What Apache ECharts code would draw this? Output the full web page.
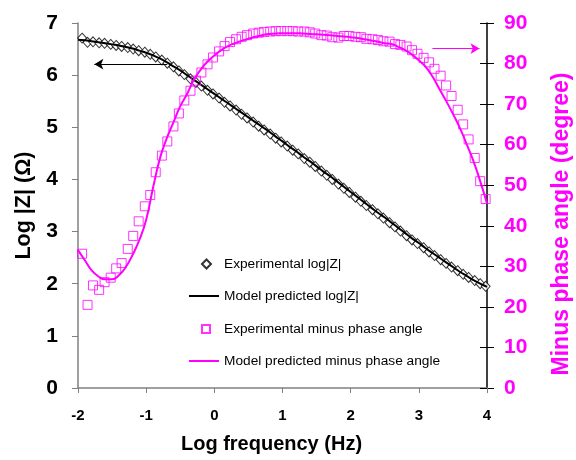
<!DOCTYPE html>
<html><head><meta charset="utf-8">
<script src="https://cdn.jsdelivr.net/npm/echarts@6/dist/echarts.min.js"></script>
<style>html,body{margin:0;padding:0;background:#fff}#c{width:576px;height:460px}</style>
</head><body><div id="c"></div>
<script>
// Model curves (log frequency grid)
const modelX = [-2.0,-1.9,-1.8,-1.7,-1.6,-1.5,-1.4,-1.3,-1.2,-1.1,-1.0,-0.9,-0.8,-0.7,-0.6,-0.5,-0.4,-0.3,-0.2,-0.1,0.0,0.1,0.2,0.3,0.4,0.5,0.6,0.7,0.8,0.9,1.0,1.1,1.2,1.3,1.4,1.5,1.6,1.7,1.8,1.9,2.0,2.1,2.2,2.3,2.4,2.5,2.6,2.7,2.8,2.9,3.0,3.1,3.2,3.3,3.4,3.5,3.6,3.7,3.8,3.9,4.0];
const modelLogZ = [6.68,6.67,6.65,6.63,6.61,6.59,6.57,6.54,6.51,6.47,6.43,6.38,6.32,6.25,6.17,6.09,6.00,5.91,5.82,5.73,5.64,5.55,5.46,5.37,5.28,5.19,5.10,5.01,4.92,4.82,4.73,4.63,4.54,4.44,4.35,4.25,4.15,4.06,3.96,3.86,3.76,3.66,3.56,3.46,3.36,3.27,3.17,3.07,2.97,2.87,2.78,2.68,2.59,2.50,2.41,2.32,2.23,2.15,2.07,2.00,1.94];
const modelPhase = [34.0,31.5,29.0,27.5,26.8,26.8,27.8,29.8,32.8,36.5,41.5,49.3,56.5,61.5,65.5,69.5,72.5,76.0,78.5,80.5,82.0,83.3,84.3,85.0,85.6,86.1,86.6,87.0,87.3,87.4,87.5,87.5,87.5,87.4,87.3,87.2,87.1,87.0,86.8,86.7,86.5,86.3,86.0,85.7,85.4,85.0,84.8,84.1,83.3,82.2,80.8,79.2,76.8,73.8,70.8,67.6,64.2,60.2,56.0,51.0,45.5];
// Experimental data
const expX = [-1.94,-1.86,-1.78,-1.69,-1.61,-1.52,-1.44,-1.36,-1.27,-1.19,-1.11,-1.02,-0.94,-0.86,-0.77,-0.69,-0.60,-0.52,-0.44,-0.35,-0.27,-0.19,-0.10,-0.02,0.07,0.15,0.23,0.32,0.40,0.48,0.57,0.65,0.73,0.82,0.90,0.98,1.07,1.15,1.23,1.32,1.40,1.48,1.57,1.65,1.73,1.82,1.90,1.98,2.07,2.15,2.23,2.32,2.40,2.48,2.57,2.65,2.73,2.82,2.90,2.98,3.07,3.15,3.23,3.32,3.40,3.48,3.57,3.65,3.73,3.82,3.90,3.98];
const expLogZ = [6.71,6.63,6.64,6.62,6.61,6.59,6.57,6.55,6.53,6.50,6.47,6.44,6.40,6.35,6.29,6.23,6.16,6.08,6.01,5.93,5.86,5.79,5.71,5.64,5.56,5.48,5.41,5.33,5.25,5.18,5.10,5.02,4.95,4.87,4.79,4.72,4.64,4.56,4.49,4.40,4.33,4.25,4.16,4.08,4.00,3.91,3.83,3.75,3.66,3.58,3.50,3.42,3.34,3.26,3.17,3.09,3.01,2.92,2.84,2.77,2.69,2.61,2.54,2.46,2.39,2.32,2.25,2.18,2.12,2.06,2.00,1.95];
const expPhase = [33.1,20.5,25.3,24.2,26.1,27.2,29.5,30.8,34.3,37.5,41.1,44.8,47.6,53.2,57.3,60.8,64.5,67.7,70.9,73.3,75.8,77.8,79.8,81.5,83.0,84.3,85.3,86.0,86.6,87.0,87.4,87.6,87.8,87.9,88.0,88.0,88.0,88.0,87.9,87.9,87.7,87.4,87.0,86.9,86.5,86.4,86.8,86.8,86.6,86.5,86.1,86.0,85.8,85.5,85.4,84.8,84.6,84.2,83.3,82.4,81.4,80.3,78.7,77.0,74.6,72.0,68.6,65.0,61.3,56.7,51.0,46.6];
// Tick labels
const xTicks = [-2,-1,0,1,2,3,4];
const yLeftTicks = [0,1,2,3,4,5,6,7];
const yRightTicks = [0,10,20,30,40,50,60,70,80,90];
// Series names
const names = ['Experimental log|Z|','Model predicted log|Z|','Experimental minus phase angle','Model predicted minus phase angle'];
// Arrow annotations (data coords)
const arrowLogZ = {from:[-0.69,6.21], to:[-1.76,6.21]};
const arrowPhase = {from:[3.20,83.7], to:[3.89,83.7]};

const MAG = '#FF00FF';
const FONT = 'Arial, "Liberation Sans", sans-serif';
const zip = (a,b)=>a.map((v,i)=>[v,b[i]]);
const LINE_ICON = 'path://M0,0L30,0L30,2L0,2Z';

function legendItem(name, left, top, icon, w, h, padLeft){
  return {orient:'vertical', left:left, top:top, padding:0, itemWidth:w, itemHeight:h, icon:icon,
    textStyle:{fontFamily:FONT,fontSize:13.7,color:'#000',padding:[0,0,0,padLeft]},
    data:[name]};
}

const chart = echarts.init(document.getElementById('c'));
chart.setOption({
  animation:false,
  grid:{left:78,right:89,top:23,bottom:72,outerBoundsMode:'none',containLabel:false},
  legend:[
    legendItem(names[0],201,257,'diamond',9,9,8),
    legendItem(names[1],189,289,LINE_ICON,30,2,0),
    legendItem(names[2],201,322,'rect',8,8,9),
    legendItem(names[3],189,354,LINE_ICON,30,2,0)
  ],
  xAxis:{
    type:'value', min:xTicks[0], max:xTicks[xTicks.length-1], interval:1,
    name:'Log frequency (Hz)', nameLocation:'middle', nameGap:46,
    nameTextStyle:{fontFamily:FONT,fontSize:20,fontWeight:'bold',color:'#000',padding:[0,22,0,0]},
    axisLine:{show:true,onZero:false,lineStyle:{color:'#808080',width:1.5}},
    axisTick:{show:true,length:5,lineStyle:{color:'#808080'}},
    axisLabel:{fontFamily:FONT,fontSize:15,fontWeight:'bold',color:'#000',margin:20},
    splitLine:{show:false}
  },
  yAxis:[{
    type:'value', min:yLeftTicks[0], max:yLeftTicks[yLeftTicks.length-1], interval:1,
    name:'Log |Z| (Ω)', nameLocation:'middle', nameGap:40, nameRotate:90,
    nameTextStyle:{fontFamily:FONT,fontSize:21.5,fontWeight:'bold',color:'#000'},
    axisLine:{show:true,onZero:false,lineStyle:{color:'#808080',width:1.5}},
    axisTick:{show:true,length:6,lineStyle:{color:'#808080'}},
    axisLabel:{fontFamily:FONT,fontSize:21,fontWeight:'bold',color:'#000',margin:20},
    splitLine:{show:false}
  },{
    type:'value', position:'right', min:yRightTicks[0], max:yRightTicks[yRightTicks.length-1], interval:10,
    name:'Minus phase angle (degree)', nameLocation:'middle', nameGap:63, nameRotate:90,
    nameTextStyle:{fontFamily:FONT,fontSize:23,fontWeight:'bold',color:MAG,padding:[0,37,0,0]},
    axisLine:{show:true,onZero:false,lineStyle:{color:'#000',width:1.5}},
    axisTick:{show:true,length:7,inside:false,lineStyle:{color:'#000'}},
    axisLabel:{fontFamily:FONT,fontSize:21,fontWeight:'bold',color:MAG,margin:17},
    splitLine:{show:false}
  },{
    type:'value', position:'right', min:yRightTicks[0], max:yRightTicks[yRightTicks.length-1], interval:10,
    axisLine:{show:false,onZero:false},
    axisTick:{show:true,length:7,inside:true,lineStyle:{color:'#000'}},
    axisLabel:{show:false},
    splitLine:{show:false}
  }],
  series:[{
    name:names[0], type:'scatter', yAxisIndex:0,
    symbol:'diamond', symbolSize:[9,10],
    itemStyle:{color:'#fff',borderColor:'#000',borderWidth:1},
    data:zip(expX,expLogZ), z:3
  },{
    name:names[1], type:'line', yAxisIndex:0, symbol:'none', smooth:true,
    lineStyle:{color:'#000',width:2}, itemStyle:{color:'#000'},
    data:zip(modelX,modelLogZ), z:4,
    markLine:{silent:true, symbol:['none','arrow'], symbolSize:[8,9],
      label:{show:false}, lineStyle:{color:'#000',width:1,type:'solid'},
      data:[[{coord:arrowLogZ.from},{coord:arrowLogZ.to}]]}
  },{
    name:names[2], type:'scatter', yAxisIndex:1,
    symbol:'rect', symbolSize:9,
    itemStyle:{color:'rgba(255,255,255,0)',borderColor:MAG,borderWidth:1},
    data:zip(expX,expPhase), z:5
  },{
    name:names[3], type:'line', yAxisIndex:1, symbol:'none', smooth:true,
    lineStyle:{color:MAG,width:2}, itemStyle:{color:MAG},
    data:zip(modelX,modelPhase), z:6,
    markLine:{silent:true, symbol:['none','arrow'], symbolSize:[8,9],
      label:{show:false}, lineStyle:{color:MAG,width:1,type:'solid'},
      data:[[{coord:arrowPhase.from},{coord:arrowPhase.to}]]}
  }]
});
</script></body></html>
